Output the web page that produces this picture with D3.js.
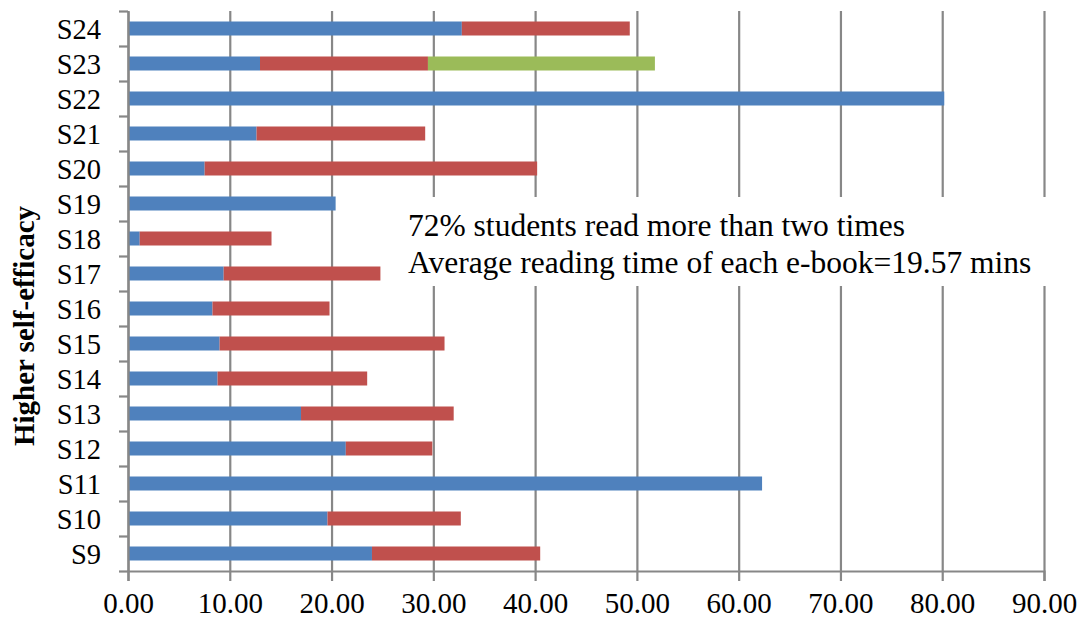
<!DOCTYPE html>
<html>
<head>
<meta charset="utf-8">
<script src="https://cdn.jsdelivr.net/npm/d3@7"></script>
<style>
  body { margin: 0; background: #fff; }
  svg text { font-family: 'Liberation Serif', 'Times New Roman', 'DejaVu Serif', serif; }
</style>
</head>
<body>
<svg id="chart" width="1079" height="619"></svg>
<script>
// students, bottom to top
var students = ["S9","S10","S11","S12","S13","S14","S15","S16","S17","S18","S19","S20","S21","S22","S23","S24"];
// reading time per reading (mins)
var firstRead  = [23.97, 19.6, 62.3, 21.4, 17.0, 8.8, 9.0, 8.3, 9.4, 1.15, 20.4, 7.53, 12.63, 80.2, 12.97, 32.8];
var secondRead = [16.53, 13.1, 0, 8.5, 15.0, 14.7, 22.1, 11.5, 15.4, 12.95, 0, 32.67, 16.57, 0, 16.5, 16.5];
var thirdRead  = [0, 0, 0, 0, 0, 0, 0, 0, 0, 0, 0, 0, 0, 0, 22.3, 0];
var xTicks = [0, 10, 20, 30, 40, 50, 60, 70, 80, 90];
var notes = ["72% students read more than two times", "Average reading time of each e-book=19.57 mins"];

var serif = "'Liberation Serif', 'Times New Roman', 'DejaVu Serif', serif";

var margin = {top: 11, right: 35, bottom: 48, left: 128},
    width = 1079 - margin.left - margin.right,
    height = 619 - margin.top - margin.bottom;

var svg = d3.select("#chart")
  .append("g")
    .attr("transform", "translate(" + margin.left + "," + margin.top + ")");

var rows = students.map(function(s, i) {
  return {student: s, first: firstRead[i], second: secondRead[i], third: thirdRead[i]};
});
var stack = d3.stack().keys(["first", "second", "third"])(rows);

var color = d3.scaleOrdinal()
  .domain(["first", "second", "third"])
  .range(["#4F81BD", "#C0504D", "#9BBB59"]);

var x = d3.scaleLinear().domain([0, 90]).range([0, width]);
var y = d3.scaleBand().domain(students).range([height, 0]);

// gridlines
var grid = svg.append("g")
  .attr("class", "grid")
  .call(d3.axisBottom(x).tickValues(xTicks).tickSize(height).tickFormat(""));
grid.select(".domain").remove();
grid.selectAll("line").attr("stroke", "#878787").attr("stroke-width", 2.2);

// note box hides gridlines
svg.append("rect")
  .attr("x", x(27)).attr("y", 186)
  .attr("width", width - x(27) + 10).attr("height", 89)
  .attr("fill", "#fff");

// bars
svg.append("g")
  .selectAll("g")
  .data(stack)
  .enter()
  .append("g")
    .attr("fill", function(d) { return color(d.key); })
  .selectAll("rect")
  .data(function(d) { return d; })
  .enter()
  .append("rect")
    .attr("x", function(d) { return x(d[0]); })
    .attr("y", function(d) { return y(d.data.student) + y.bandwidth() * 0.3; })
    .attr("width", function(d) { return x(d[1]) - x(d[0]); })
    .attr("height", y.bandwidth() * 0.4);

// x axis
var xAxis = svg.append("g")
  .attr("transform", "translate(0," + height + ")")
  .call(d3.axisBottom(x).tickValues(xTicks).tickSize(10).tickPadding(11).tickFormat(d3.format(".2f")));
xAxis.attr("font-family", serif).attr("font-size", 29);
xAxis.select(".domain").attr("stroke", "#878787").attr("stroke-width", 2.2);
xAxis.selectAll("line").attr("stroke", "#878787").attr("stroke-width", 2.2);
xAxis.selectAll("text").attr("fill", "#000");

// y axis: ticks on band boundaries
var yb = d3.scaleLinear().domain([0, students.length]).range([height, 0]);
var yAxis = svg.append("g")
  .call(d3.axisLeft(yb).tickValues(d3.range(students.length + 1)).tickSize(9).tickSizeOuter(0).tickFormat(""));
yAxis.select(".domain").attr("stroke", "#878787").attr("stroke-width", 2.2);
yAxis.selectAll("line").attr("stroke", "#878787").attr("stroke-width", 2.2);

// student labels
var yLab = svg.append("g")
  .call(d3.axisLeft(y).tickSize(0).tickPadding(27));
yLab.attr("font-family", serif).attr("font-size", 28.5);
yLab.select(".domain").remove();
yLab.selectAll("text").attr("fill", "#000").attr("dy", "0.36em");

// axis title
svg.append("text")
  .attr("transform", "translate(" + (-94) + "," + (height / 2 + 35) + ")rotate(-90)")
  .attr("text-anchor", "middle")
  .attr("font-family", serif)
  .attr("font-size", 29)
  .attr("font-weight", "bold")
  .text("Higher self-efficacy");

// notes
svg.selectAll(".note")
  .data(notes)
  .enter()
  .append("text")
    .attr("class", "note")
    .attr("x", 280)
    .attr("y", function(d, i) { return 225 + i * 37; })
    .attr("font-family", serif)
    .attr("font-size", 31.5)
    .attr("fill", "#000")
    .text(function(d) { return d; });
</script>
</body>
</html>
